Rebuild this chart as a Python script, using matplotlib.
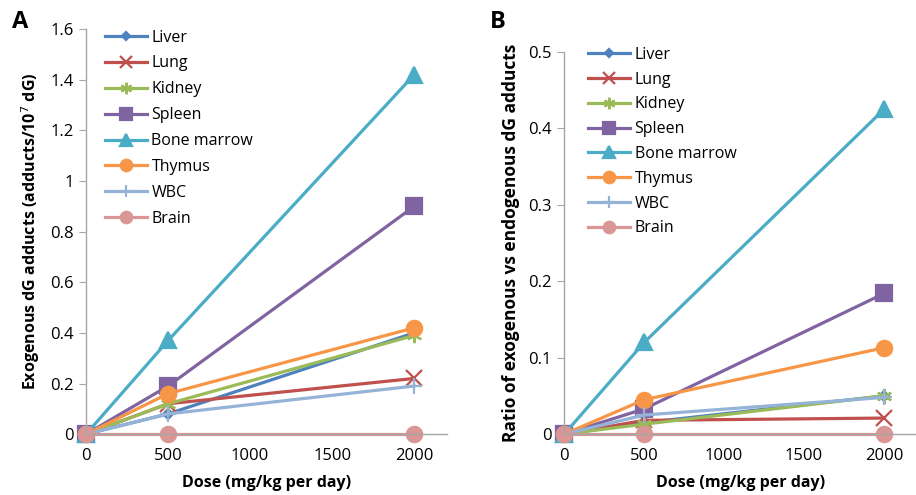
import matplotlib
matplotlib.use("Agg")
import matplotlib.pyplot as plt

plt.rcParams["font.family"] = ["Open Sans", "DejaVu Sans"]

DOSE = [0, 500, 2000]
TISSUES = ["Liver", "Lung", "Kidney", "Spleen", "Bone marrow", "Thymus", "WBC", "Brain"]

# panel A: exogenous dG adducts per 10^7 dG
ADDUCTS_LIVER = [0, 0.08, 0.40]
ADDUCTS_LUNG = [0, 0.12, 0.22]
ADDUCTS_KIDNEY = [0, 0.12, 0.39]
ADDUCTS_SPLEEN = [0, 0.19, 0.90]
ADDUCTS_MARROW = [0, 0.37, 1.42]
ADDUCTS_THYMUS = [0, 0.16, 0.42]
ADDUCTS_WBC = [0, 0.08, 0.19]
ADDUCTS_BRAIN = [0, 0, 0]

# panel B: ratio exogenous / endogenous
RATIO_LIVER = [0, 0.015, 0.050]
RATIO_LUNG = [0, 0.018, 0.021]
RATIO_KIDNEY = [0, 0.013, 0.050]
RATIO_SPLEEN = [0, 0.033, 0.184]
RATIO_MARROW = [0, 0.120, 0.425]
RATIO_THYMUS = [0, 0.045, 0.113]
RATIO_WBC = [0, 0.025, 0.048]
RATIO_BRAIN = [0, 0, 0]

STYLE = {
    "Liver": ("#4F81BD", "D", 5),
    "Lung": ("#C0504D", "x", 11),
    "Kidney": ("#9BBB59", (6, 2, 0), 11),
    "Spleen": ("#8064A2", "s", 11),
    "Bone marrow": ("#4BACC6", "^", 12),
    "Thymus": ("#F79646", "o", 11),
    "WBC": ("#95B3D7", "+", 11),
    "Brain": ("#D99694", "o", 11),
}
SPINE = "#A6A6A6"


def panel(ax, series, ymax, ystep, ylabel, ylabel_size, legend_xy, spacing):
    for name, vals in zip(TISSUES, series):
        c, m, ms = STYLE[name]
        ax.plot(DOSE, vals, color=c, lw=2.3, marker=m, ms=ms, mew=1.6,
                label=name, clip_on=False)
    ax.set_xlim(0, 2200)
    ax.set_ylim(0, ymax)
    ax.set_xticks([0, 500, 1000, 1500, 2000])
    ax.set_xticklabels(["0", "500", "1000", "1500", "2000"])
    n = int(round(ymax / ystep))
    ticks = [round(i * ystep, 3) for i in range(n + 1)]
    ax.set_yticks(ticks)
    ax.set_yticklabels([f"{t:g}" for t in ticks])
    for s in ["top", "right"]:
        ax.spines[s].set_visible(False)
    for s in ["left", "bottom"]:
        ax.spines[s].set_color(SPINE)
        ax.spines[s].set_linewidth(1.0)
    ax.tick_params(axis="y", colors=SPINE, labelcolor="black", length=5,
                   labelsize=12, pad=4)
    ax.tick_params(axis="x", length=0, labelsize=12, pad=10)
    ax.set_xlabel("Dose (mg/kg per day)", fontsize=11.5, fontweight="bold", labelpad=8)
    ax.set_ylabel(ylabel, fontsize=ylabel_size, fontweight="bold", labelpad=6)
    ax.legend(loc="upper left", bbox_to_anchor=legend_xy, frameon=False,
              fontsize=11.5, handlelength=2.6, handletextpad=0.3,
              labelspacing=spacing, borderaxespad=0, markerscale=0.75)


fig = plt.figure(figsize=(9.16, 4.95), dpi=100)
ax1 = fig.add_axes([0.094, 0.123, 0.394, 0.818])
ax2 = fig.add_axes([0.616, 0.123, 0.384, 0.772])

panel(ax1,
      [ADDUCTS_LIVER, ADDUCTS_LUNG, ADDUCTS_KIDNEY, ADDUCTS_SPLEEN,
       ADDUCTS_MARROW, ADDUCTS_THYMUS, ADDUCTS_WBC, ADDUCTS_BRAIN],
      1.6, 0.2, "Exogenous dG adducts (adducts/10$^7$ dG)", 11.5,
      (0.035, 1.015), 0.62)
panel(ax2,
      [RATIO_LIVER, RATIO_LUNG, RATIO_KIDNEY, RATIO_SPLEEN,
       RATIO_MARROW, RATIO_THYMUS, RATIO_WBC, RATIO_BRAIN],
      0.5, 0.1, "Ratio of exogenous vs endogenous dG adducts", 12.5,
      (0.05, 1.03), 0.55)

fig.text(0.013, 0.955, "A", fontsize=17, fontweight="bold", va="center")
fig.text(0.535, 0.955, "B", fontsize=17, fontweight="bold", va="center")

fig.savefig("out.png", dpi=100)
